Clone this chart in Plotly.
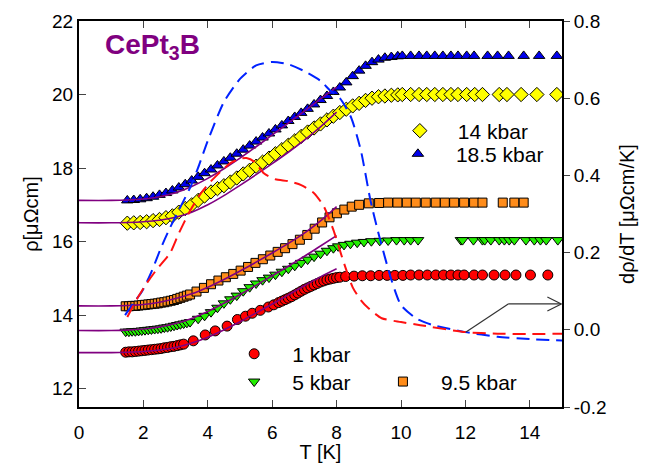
import plotly.graph_objects as go

# ---------------- data ----------------
# 1 kbar
T_1 = [1.45, 1.55, 1.65, 1.75, 1.85, 1.95, 2.05, 2.15, 2.25, 2.35, 2.45, 2.55, 2.65, 2.75, 2.85, 2.95, 3.05, 3.15, 3.25,
       3.55, 3.92, 4.23, 4.6, 4.92, 5.17, 5.38, 5.63, 5.88, 6.05, 6.2,
       6.3, 6.4, 6.5, 6.6, 6.7, 6.8, 6.9, 7.0, 7.1, 7.2, 7.3, 7.4, 7.5, 7.6, 7.7, 7.8, 7.9, 8.0, 8.1,
       8.28, 8.54, 8.80, 9.06, 9.32, 9.57, 9.81, 10.06, 10.30, 10.56, 10.82, 11.08, 11.32, 11.55, 11.77, 11.96,
       12.27, 12.53, 12.89, 13.23, 13.57, 14.02, 14.56]
R_1 = [12.99, 13.0, 13.0, 13.01, 13.02, 13.03, 13.04, 13.05, 13.06, 13.07, 13.08, 13.09, 13.11, 13.12, 13.14, 13.15, 13.17, 13.19, 13.21,
       13.3, 13.46, 13.57, 13.7, 13.88, 13.97, 14.05, 14.13, 14.22, 14.28, 14.34,
       14.38, 14.42, 14.46, 14.5, 14.55, 14.6, 14.65, 14.7, 14.74, 14.78, 14.82, 14.86, 14.9, 14.93, 14.96, 14.98, 15.0, 15.02, 15.03,
       15.05, 15.06, 15.07, 15.07, 15.08, 15.08, 15.08, 15.08, 15.09, 15.09, 15.09, 15.09, 15.09, 15.09, 15.09, 15.09,
       15.09, 15.09, 15.09, 15.09, 15.09, 15.09, 15.09]

# 5 kbar
T_5 = [1.45, 1.55, 1.65, 1.75, 1.85, 1.95, 2.05, 2.15, 2.25, 2.35, 2.45, 2.55, 2.65, 2.75, 2.85, 2.95, 3.05, 3.15, 3.25, 3.35, 3.45,
       3.7, 3.9, 4.1, 4.3, 4.5, 4.7, 4.9, 5.1, 5.3, 5.5, 5.7, 5.9, 6.1, 6.3, 6.5, 6.7, 6.9, 7.1, 7.3, 7.5, 7.7, 7.9, 8.05,
       8.23, 8.43, 8.64, 8.85, 9.08, 9.34, 9.6, 9.86, 10.1, 10.3, 10.53,
       11.86, 11.91, 12.25, 12.53, 12.6, 12.79, 13.05, 13.21, 13.36, 13.52, 13.88, 14.14, 14.33, 14.51, 14.87]
R_5 = [13.55, 13.55, 13.56, 13.56, 13.57, 13.58, 13.59, 13.6, 13.61, 13.62, 13.63, 13.64, 13.66, 13.67, 13.69, 13.71, 13.73, 13.75, 13.77, 13.79, 13.81,
       13.9, 13.98, 14.08, 14.2, 14.32, 14.43, 14.53, 14.65, 14.76, 14.86, 14.95, 15.02, 15.1, 15.18, 15.26, 15.34, 15.42, 15.51, 15.59, 15.67, 15.75, 15.82, 15.87,
       15.91, 15.94, 15.97, 15.99, 16.01, 16.02, 16.03, 16.04, 16.04, 16.04, 16.04,
       16.04, 16.04, 16.04, 16.04, 16.04, 16.04, 16.04, 16.04, 16.04, 16.04, 16.04, 16.04, 16.04, 16.04, 16.04]

# 9.5 kbar
T_95 = [1.45, 1.55, 1.65, 1.75, 1.85, 1.95, 2.05, 2.15, 2.25, 2.35, 2.45, 2.55, 2.65, 2.75, 2.85, 2.95, 3.05, 3.15, 3.25, 3.35, 3.45,
        3.65, 3.88, 4.1, 4.33, 4.56, 4.79, 5.02, 5.25, 5.48, 5.71, 5.94, 6.17, 6.4, 6.63, 6.86, 7.09, 7.32, 7.55, 7.78, 8.01, 8.24, 8.47, 8.7,
        9.0, 9.32, 9.6, 9.89, 10.18, 10.46, 10.77, 11.08, 11.36, 11.65, 11.96, 12.27, 12.53, 13.16, 13.52, 13.81]
R_95 = [14.24, 14.24, 14.25, 14.25, 14.26, 14.27, 14.28, 14.29, 14.3, 14.31, 14.32, 14.34, 14.35, 14.37, 14.39, 14.41, 14.44, 14.47, 14.5, 14.53, 14.56,
        14.64, 14.74, 14.84, 14.94, 15.03, 15.12, 15.21, 15.31, 15.42, 15.52, 15.62, 15.72, 15.82, 15.93, 16.05, 16.18, 16.35, 16.52, 16.66, 16.77, 16.87, 16.95, 17.0,
        17.04, 17.05, 17.06, 17.06, 17.06, 17.06, 17.06, 17.06, 17.06, 17.06, 17.06, 17.06, 17.06, 17.06, 17.06, 17.06]

# 14 kbar
T_14 = [1.5, 1.7, 1.9, 2.1, 2.3, 2.5, 2.7, 2.9, 3.1, 3.3, 3.5, 3.7, 3.9, 4.1, 4.3, 4.5, 4.7, 4.9, 5.1, 5.3, 5.5, 5.7, 5.9,
        6.1, 6.3, 6.5, 6.7, 6.9, 7.1, 7.3, 7.5, 7.7, 7.9, 8.1, 8.3, 8.5, 8.7, 8.9, 9.1, 9.3, 9.5, 9.7, 9.9,
        10.04, 10.3, 10.56, 10.8, 11.05, 11.3, 11.55, 11.77, 12.04, 12.29, 12.53, 13.05, 13.29, 13.73, 14.22, 14.84]
R_14 = [16.5, 16.51, 16.52, 16.54, 16.57, 16.6, 16.65, 16.7, 16.8, 16.9, 17.0, 17.12, 17.24, 17.35, 17.44, 17.52, 17.62, 17.73, 17.84, 17.94, 18.05, 18.16, 18.27,
        18.39, 18.5, 18.62, 18.74, 18.86, 18.98, 19.09, 19.2, 19.31, 19.41, 19.51, 19.6, 19.69, 19.76, 19.84, 19.9, 19.94, 19.96, 19.98, 19.99,
        20.0, 20.0, 20.0, 20.0, 20.0, 20.0, 20.0, 20.0, 20.0, 20.0, 20.0, 20.0, 20.0, 20.0, 20.0, 20.0]

# 18.5 kbar
T_185 = [1.5, 1.7, 1.9, 2.1, 2.3, 2.5, 2.7, 2.9, 3.1, 3.3, 3.5, 3.7, 3.9, 4.1, 4.3, 4.5, 4.7, 4.9, 5.1, 5.3, 5.5, 5.7, 5.9,
         6.1, 6.3, 6.5, 6.7, 6.9, 7.1, 7.3, 7.5, 7.7, 7.9, 8.1, 8.3, 8.5, 8.7, 8.9, 9.1, 9.3, 9.5, 9.7, 9.9,
         10.04, 10.3, 10.56, 10.8, 11.05, 11.3, 11.55, 11.77, 12.04, 12.27, 12.69, 13.0, 13.34, 13.81, 14.29, 14.84]
R_185 = [17.12, 17.13, 17.15, 17.18, 17.22, 17.27, 17.32, 17.39, 17.47, 17.56, 17.66, 17.76, 17.86, 17.96, 18.07, 18.18, 18.28, 18.39, 18.5, 18.61, 18.72, 18.83, 18.94,
         19.05, 19.16, 19.28, 19.39, 19.5, 19.61, 19.73, 19.85, 19.96, 20.07, 20.19, 20.33, 20.5, 20.65, 20.78, 20.88, 20.95, 21.0, 21.02, 21.04,
         21.05, 21.05, 21.05, 21.05, 21.05, 21.05, 21.05, 21.05, 21.05, 21.05, 21.05, 21.05, 21.05, 21.05, 21.05, 21.05]

# low-temperature fits (purple lines)
T_FIT = [0.0, 1.0, 1.5, 2.0, 2.5, 3.0, 3.5, 4.0, 4.5, 5.0, 5.5, 6.0, 6.5, 7.0, 7.5, 8.0]
FIT_1 = [12.98, 12.98, 12.99, 13.01, 13.05, 13.12, 13.24, 13.4, 13.6, 13.82, 14.06, 14.3, 14.55, 14.8, 15.04, 15.26]
FIT_5 = [13.58, 13.58, 13.59, 13.62, 13.68, 13.77, 13.91, 14.1, 14.32, 14.56, 14.81, 15.07, 15.33, 15.6, 15.88, 16.16]
FIT_95 = [14.25, 14.25, 14.26, 14.29, 14.35, 14.45, 14.58, 14.76, 14.97, 15.2, 15.44, 15.69, 15.95, 16.23, 16.56, 16.95]
FIT_14 = [16.51, 16.51, 16.52, 16.54, 16.58, 16.66, 16.8, 17.0, 17.25, 17.53, 17.82, 18.12, 18.43, 18.76, 19.12, 19.52]
FIT_185 = [17.12, 17.12, 17.13, 17.16, 17.22, 17.33, 17.5, 17.72, 17.98, 18.27, 18.58, 18.9, 19.22, 19.55, 19.88, 20.2]

# derivatives d rho / dT (right axis)
T_DBLUE = [1.43, 1.7, 1.96, 2.25, 2.52, 2.8, 3.1, 3.46, 3.7, 4.0, 4.5, 5.0, 5.5, 6.0, 6.5, 7.0, 7.5, 7.8, 8.1, 8.45,
           8.75, 9.05, 9.3, 9.7, 10.0, 10.5, 11.0, 12.0, 13.0, 14.0, 15.0]
D_BLUE = [0.038, 0.07, 0.10, 0.15, 0.207, 0.26, 0.31, 0.37, 0.42, 0.49, 0.59, 0.65, 0.685, 0.694, 0.688, 0.67, 0.645, 0.62, 0.6, 0.55,
          0.466, 0.336, 0.25, 0.13, 0.064, 0.028, 0.012, -0.006, -0.018, -0.024, -0.028]
T_DRED = [1.5, 1.8, 2.1, 2.4, 2.83, 3.1, 3.46, 3.8, 4.1, 4.4, 4.7, 5.0, 5.2, 5.45, 5.75, 6.1, 6.5, 6.9, 7.3, 7.6,
          7.9, 8.2, 8.5, 8.75, 9.0, 9.4, 10.0, 10.6, 12.0, 13.0, 14.0, 15.0]
D_RED = [0.033, 0.08, 0.12, 0.155, 0.199, 0.25, 0.31, 0.355, 0.385, 0.41, 0.432, 0.443, 0.445, 0.435, 0.405, 0.39, 0.385, 0.375, 0.354, 0.32,
         0.259, 0.18, 0.11, 0.077, 0.055, 0.03, 0.02, 0.012, -0.006, -0.01, -0.011, -0.01]

X_TICKS = [0, 2, 4, 6, 8, 10, 12, 14]
Y_TICKS = [12, 14, 16, 18, 20, 22]
Y2_TICKS = [-0.2, 0.0, 0.2, 0.4, 0.6, 0.8]
Y2_TICKTEXT = ["-0.2", "0.0", "0.2", "0.4", "0.6", "0.8"]

# ---------------- styling ----------------
FONT = "Liberation Sans, Arial, Helvetica, sans-serif"
PURPLE = "#800080"
OUT = dict(color="black", width=1)

series = [
    ("1 kbar", T_1, R_1, "circle", "#ff0000", 10, "legend2"),
    ("5 kbar", T_5, R_5, "triangle-down", "#22ee00", 10, "legend3"),
    ("9.5 kbar", T_95, R_95, "square", "#ff8c1a", 9, "legend4"),
    ("14 kbar", T_14, R_14, "diamond", "#ffff00", 11, "legend"),
    ("18.5 kbar", T_185, R_185, "triangle-up", "#0000ee", 10, "legend5"),
]

fig = go.Figure()

for name, tx, ry, sym, col, size, lg in series:
    fig.add_trace(go.Scatter(
        x=tx, y=ry, mode="markers", name=name, legend=lg,
        marker=dict(symbol=sym, color=col, size=size, line=OUT),
    ))

for fy in (FIT_1, FIT_5, FIT_95, FIT_14, FIT_185):
    fig.add_trace(go.Scatter(
        x=T_FIT, y=fy, mode="lines", showlegend=False,
        line=dict(color=PURPLE, width=1.6, shape="spline"),
    ))

fig.add_trace(go.Scatter(
    x=T_DBLUE, y=D_BLUE, mode="lines", yaxis="y2", showlegend=False,
    line=dict(color="#0022ff", width=2, dash="13px,7px", shape="spline", smoothing=0.6),
))
fig.add_trace(go.Scatter(
    x=T_DRED, y=D_RED, mode="lines", yaxis="y2", showlegend=False,
    line=dict(color="#ff1111", width=2, dash="13px,7px", shape="spline", smoothing=0.6),
))

# arrow pointing to the right axis
ARROW_PATH = [(12.02, -0.006), (13.33, 0.067), (14.98, 0.067)]
for (xa, ya), (xb, yb) in zip(ARROW_PATH[:-1], ARROW_PATH[1:]):
    fig.add_shape(type="line", xref="x", yref="y2", x0=xa, y0=ya, x1=xb, y1=yb,
                  line=dict(color="#333333", width=1.2))
tipx, tipy = ARROW_PATH[-1]
for dy in (7, -7):
    fig.add_shape(type="line", xref="x", yref="y2", xsizemode="pixel", ysizemode="pixel",
                  xanchor=tipx, yanchor=tipy, x0=-14, y0=dy, x1=0, y1=0,
                  line=dict(color="#333333", width=1.2))

# compound label
fig.add_annotation(text="<b>CePt<sub>3</sub>B</b>", xref="paper", yref="paper",
                   x=0.05, y=0.935, xanchor="left", yanchor="middle", showarrow=False,
                   font=dict(family=FONT, size=28, color=PURPLE))

axis_common = dict(showgrid=False, zeroline=False, showline=True, linecolor="black", linewidth=2,
                   automargin=False,
                   tickfont=dict(family=FONT, size=19, color="black"),
                   title_font=dict(family=FONT, size=20, color="black"))

leg_common = dict(bgcolor="rgba(0,0,0,0)", borderwidth=0, itemwidth=66,
                  font=dict(family=FONT, size=21, color="black"),
                  xanchor="left", yanchor="middle")

fig.update_layout(
    width=646, height=463,
    margin=dict(l=79, r=84, t=21, b=56, autoexpand=False),
    plot_bgcolor="white", paper_bgcolor="white",
    xaxis=dict(range=[0, 15], tickvals=X_TICKS, ticks="inside", ticklen=7, tickwidth=1, tickcolor="#444",
               ticklabelstandoff=7,
               mirror="ticks", title=dict(text="T [K]", standoff=0), **axis_common),
    yaxis=dict(range=[11.5, 22], tickvals=Y_TICKS, ticks="inside", ticklen=7, tickwidth=1, tickcolor="#444",
               title=dict(text="ρ[μΩcm]", standoff=8), **axis_common),
    yaxis2=dict(range=[-0.2, 0.8], tickvals=Y2_TICKS, ticktext=Y2_TICKTEXT, overlaying="y", side="right",
                ticks="outside", ticklen=6, tickwidth=1, tickcolor="#444",
                title=dict(text="dρ/dT [μΩcm/K]", standoff=14), **axis_common),
    legend=dict(x=0.627, y=0.715, **leg_common),
    legend5=dict(x=0.623, y=0.655, **leg_common),
    legend2=dict(x=0.284, y=0.137, **leg_common),
    legend3=dict(x=0.284, y=0.065, **leg_common),
    legend4=dict(x=0.592, y=0.065, **leg_common),
    showlegend=True,
)

fig.write_html(
    "out.html",
    config={"displayModeBar": False},
    post_script="document.body.style.margin='0';document.body.style.overflow='hidden';",
)
